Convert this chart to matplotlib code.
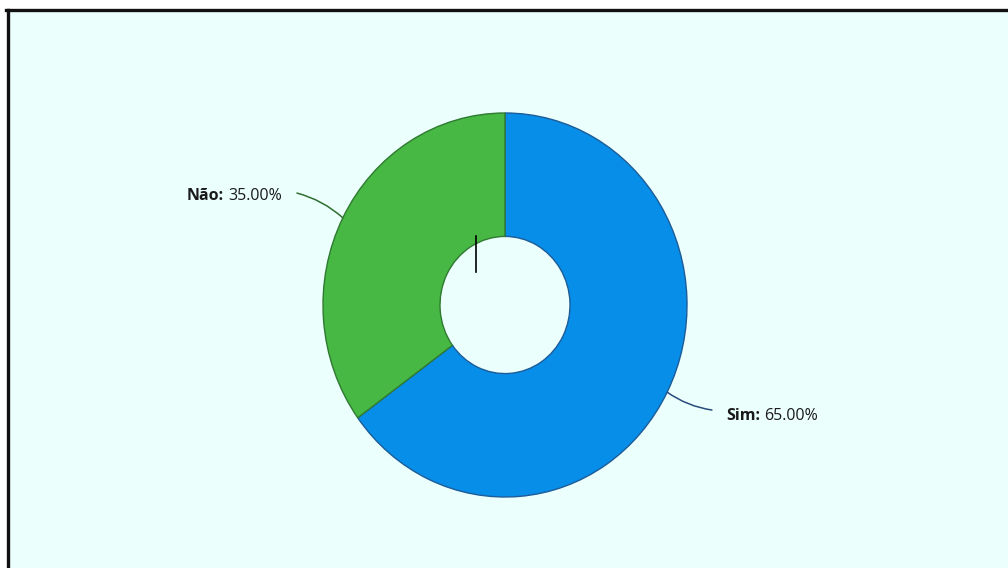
"""Donut chart: Sim / Não share."""
import matplotlib

matplotlib.use("Agg")
import matplotlib.pyplot as plt
import numpy as np
from matplotlib.lines import Line2D

labels = ["Sim", "Não"]
values = [65.0, 35.0]
colors = ["#078EE8", "#46B843"]
edge_colors = ["#1D5C98", "#2F7A31"]
leader_colors = ["#2A4C7C", "#2F6E30"]

BG = "#EBFFFD"
W, H = 1008, 568
CX, CY = 505, 305  # donut centre, pixels from top-left
RX, RY = 182, 192  # outer radius in px (x, y)
FS = 11.5

plt.rcParams["font.family"] = ["Open Sans", "DejaVu Sans"]

fig = plt.figure(figsize=(W / 100, H / 100), dpi=100)
fig.patch.set_facecolor("white")

# pale panel with the black frame on its top/left
panel = fig.add_axes([7 / W, 0, 1 - 7 / W, 1 - 9 / H])
panel.set_facecolor(BG)
panel.set_xticks([])
panel.set_yticks([])
for s in panel.spines.values():
    s.set_visible(False)

ax = fig.add_axes([0, 0, 1, 1])
ax.set_facecolor("none")
wedges, _ = ax.pie(
    values,
    colors=colors,
    startangle=90,
    counterclock=False,
    radius=1.0,
    wedgeprops=dict(width=1 - 65 / RX, linewidth=1.0),
)
for w, ec in zip(wedges, edge_colors):
    w.set_edgecolor(ec)

ax.set_aspect("auto")
ax.set_xlim(-CX / RX, (W - CX) / RX)
ax.set_ylim(-(H - CY) / RY, CY / RY)
ax.axis("off")

# leader lines + labels
text_pos = {"Sim": (1.214, -0.578), "Não": (-1.225, 0.568)}
line_end = {"Sim": (1.137, -0.547), "Não": (-1.143, 0.583)}
total = sum(values)
start = 90.0
for lab, val, lc in zip(labels, values, leader_colors):
    sweep = 360.0 * val / total
    mid = np.deg2rad(start - sweep / 2)
    start -= sweep
    p0 = (np.cos(mid), np.sin(mid))
    ex, ey = line_end[lab]
    ax.annotate(
        "",
        xy=p0,
        xytext=(ex, ey),
        arrowprops=dict(arrowstyle="-", color=lc, lw=1.1,
                        connectionstyle="arc3,rad=-0.12",
                        shrinkA=0, shrinkB=0),
    )
    tx, ty = text_pos[lab]
    pct = f"{val:.2f}%"
    if lab == "Sim":
        head = ax.text(tx, ty, f"{lab}:", ha="left", va="center",
                       fontsize=FS, fontweight="bold", color="#1A1A1A")
        ax.annotate(pct, xy=(1, 0.5), xycoords=head, xytext=(3, 0),
                    textcoords="offset points", ha="left", va="center",
                    fontsize=FS, color="#1A1A1A")
    else:
        tail = ax.text(tx, ty, pct, ha="right", va="center",
                       fontsize=FS, color="#1A1A1A")
        ax.annotate(f"{lab}:", xy=(0, 0.5), xycoords=tail, xytext=(-3, 0),
                    textcoords="offset points", ha="right", va="center",
                    fontsize=FS, fontweight="bold", color="#1A1A1A")

# short black tick inside the hole
ax.plot([(476 - CX) / RX] * 2, [(CY - 236) / RY, (CY - 272) / RY],
        color="black", lw=1.2)

# frame
fig.add_artist(Line2D([7.5 / W, 7.5 / W], [0, 1 - 9.5 / H], color="#111111", lw=2.4))
fig.add_artist(Line2D([6.3 / W, 1], [1 - 9.5 / H, 1 - 9.5 / H], color="#111111", lw=2.4))

fig.savefig("out.png", dpi=100, facecolor=fig.get_facecolor())
